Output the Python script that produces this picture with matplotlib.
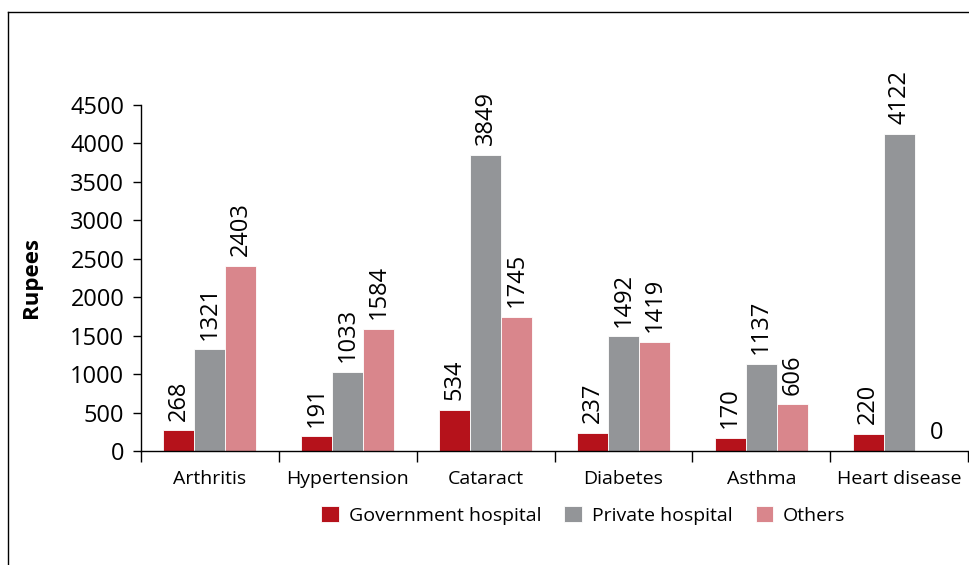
import numpy as np
import matplotlib.pyplot as plt
from matplotlib.lines import Line2D

plt.rcParams['font.family'] = ['Open Sans', 'DejaVu Sans']

# Average expenditure per disease, by type of provider
diseases = ['Arthritis', 'Hypertension', 'Cataract', 'Diabetes', 'Asthma', 'Heart disease']
government = [268, 191, 534, 237, 170, 220]
private = [1321, 1033, 3849, 1492, 1137, 4122]
others = [2403, 1584, 1745, 1419, 606, 0]

series = [('Government hospital', government, '#B5121B'),
          ('Private hospital', private, '#939598'),
          ('Others', others, '#D9868C')]

fig = plt.figure(figsize=(9.69, 5.65), dpi=100)
ax = fig.add_axes([0.1455, 0.2018, 0.8535, 0.6124])

x = np.arange(len(diseases))
w = 0.225
handles = []
for i, (name, vals, col) in enumerate(series):
    pos = x + (i - 1) * w
    bars = ax.bar(pos, vals, width=w, color=col, edgecolor='white', linewidth=0.6, label=name)
    handles.append(bars)
    for xp, v in zip(pos, vals):
        # zero is written upright, the rest along the bar
        if v == 0:
            ax.annotate('0', (xp, v), xytext=(5, 4), textcoords='offset points',
                        ha='center', va='bottom', fontsize=17)
        else:
            ax.annotate(str(v), (xp, v), xytext=(0, 7), textcoords='offset points',
                        rotation=90, ha='center', va='bottom', fontsize=17)

ax.set_xlim(-0.5, len(diseases) - 0.5)
ax.set_ylim(0, 4500)
ax.set_yticks(np.arange(0, 4501, 500))
ax.tick_params(axis='y', labelsize=17, length=6, width=1, pad=6)

# category labels between boundary ticks
ax.set_xticks(np.arange(-0.5, len(diseases)), minor=False)
ax.set_xticklabels([])
ax.set_xticks(x, minor=True)
ax.set_xticklabels(diseases, minor=True)
ax.tick_params(axis='x', which='major', length=8, width=1)
ax.tick_params(axis='x', which='minor', length=0, labelsize=14, pad=14)

for s in ['top', 'right']:
    ax.spines[s].set_visible(False)
for s in ['left', 'bottom']:
    ax.spines[s].set_linewidth(1)

ax.set_ylabel('Rupees', fontsize=16, fontweight='bold')
ax.yaxis.set_label_coords(-0.1195, 0.5)

fig.legend(handles=handles, loc='center', bbox_to_anchor=(0.602, 0.088), ncol=3,
           frameon=False, fontsize=14, handlelength=0.9, handleheight=0.9,
           handletextpad=0.5, columnspacing=1.2)

# outer frame around the figure
fig.add_artist(Line2D([8 / 969, 8 / 969], [0, 1 - 12 / 565], transform=fig.transFigure,
                      color='black', linewidth=1))
fig.add_artist(Line2D([8 / 969, 1], [1 - 12 / 565, 1 - 12 / 565], transform=fig.transFigure,
                      color='black', linewidth=1))

fig.savefig('out.png', dpi=100)
